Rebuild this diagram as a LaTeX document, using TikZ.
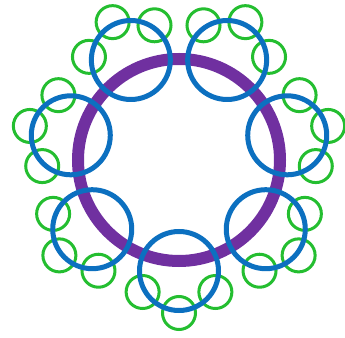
\documentclass[tikz,border=0pt]{standalone}
\begin{document}
\begin{tikzpicture}[x=1pt,y=1pt,
  purplering/.style={draw=ringpurple, line width=12pt},
  bluering/.style={draw=ringblue, line width=5pt},
  greenring/.style={draw=ringgreen, line width=3pt}]
\definecolor{ringpurple}{RGB}{112,48,160}
\definecolor{ringblue}{RGB}{12,112,192}
\definecolor{ringgreen}{RGB}{36,190,48}
\useasboundingbox (0,0) rectangle (345,337);
\fill[white] (0,0) rectangle (345,337);
\coordinate (C) at (179,177);
\draw[purplering] (C) circle[radius=101pt];
\begin{scope}[shift={(C)}]
\foreach \i in {0,...,6} {
  \pgfmathsetmacro\a{-90+360/7*\i}
  \foreach \d in {-60,0,60} {
    \draw[greenring] (\a:111pt) ++(\a+\d:42pt) circle[radius=16.5pt];
  }
  \draw[bluering] (\a:111pt) circle[radius=39.5pt];
}
\end{scope}
\end{tikzpicture}
\end{document}
